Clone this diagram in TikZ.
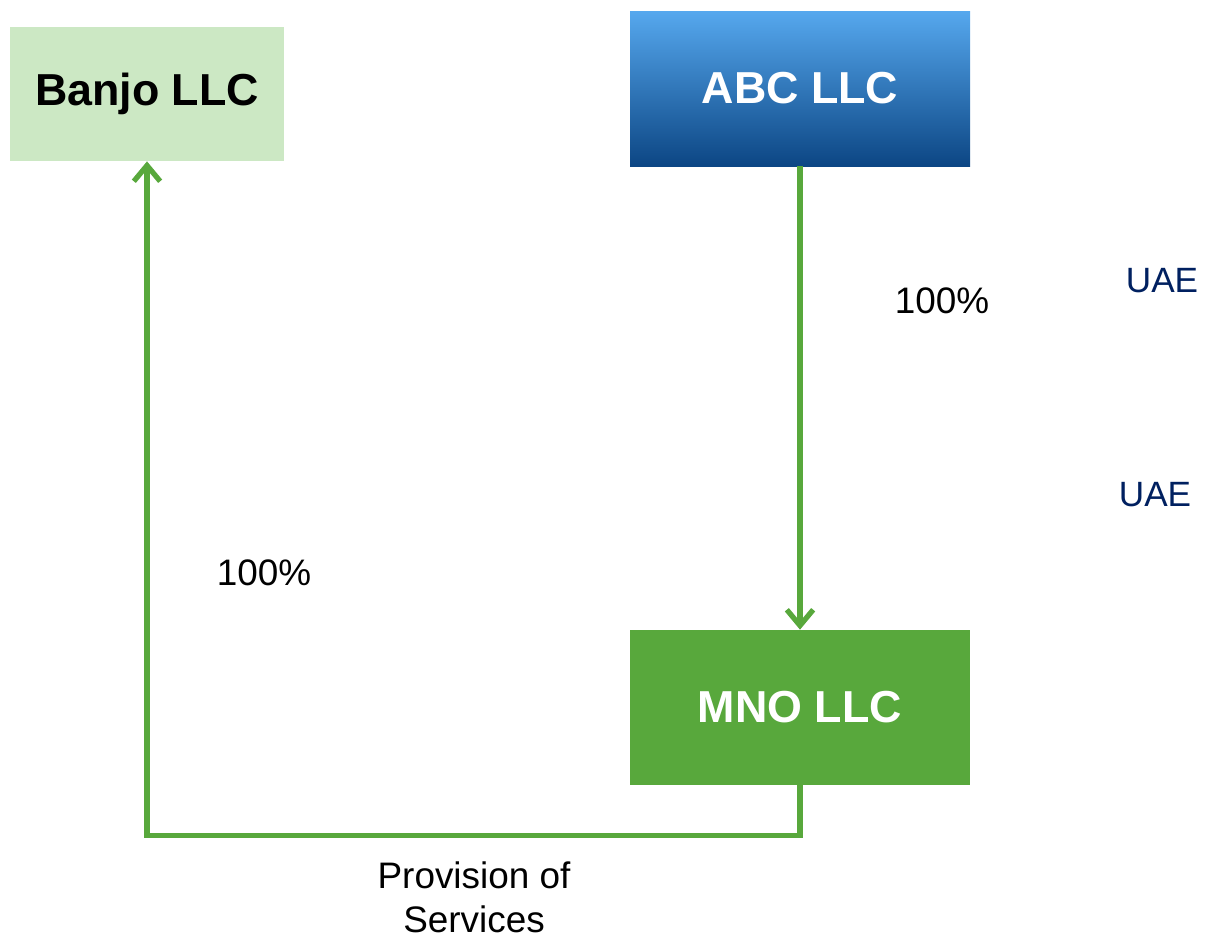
\documentclass[tikz,border=0pt]{standalone}
\usepackage{fontspec}
\setmainfont{Liberation Sans}
\usetikzlibrary{arrows.meta}
\definecolor{lightgreen}{RGB}{204,232,196}
\definecolor{darkgreen}{RGB}{88,168,60}
\definecolor{navy}{RGB}{0,32,96}
\begin{document}
\begin{tikzpicture}[x=0.02cm,y=-0.02cm,
  company/.style={minimum width=340*0.02cm,minimum height=155*0.02cm,inner sep=0pt,
    font=\fontsize{25.5}{30}\selectfont\bfseries},
  flow/.style={draw=darkgreen,line width=3pt,-{Straight Barb[length=9pt,width=15pt,line width=3pt]}},
  lbl/.style={font=\fontsize{21}{25}\selectfont}]
\useasboundingbox (0,0) rectangle (1206,938);
\node[company,fill=lightgreen,minimum width=274*0.02cm,minimum height=134*0.02cm] (banjo) at (147,94) {Banjo LLC};
\node[company,text=white,top color={rgb,255:red,86;green,168;blue,238},
  middle color={rgb,255:red,22;green,116;blue,210},bottom color={rgb,255:red,12;green,70;blue,132}] (abc) at (800,88.5) {ABC LLC};
\node[company,text=white,fill=darkgreen] (mno) at (800,707.5) {MNO LLC};
\draw[flow] (abc.south) -- (mno.north);
\draw[flow] (mno.south) -- ++(0,50) -| (banjo.south);
\node[lbl] (own1) at (942,301) {100\%};
\node[lbl] (own2) at (264,573) {100\%};
\node[lbl,text=navy,font=\fontsize{20}{24}\selectfont] (uae1) at (1162,281) {UAE};
\node[lbl,text=navy,font=\fontsize{20}{24}\selectfont] (uae2) at (1155,495) {UAE};
\node[lbl,align=center,inner sep=0pt] (service) at (474,897) {Provision of\\Services};
\end{tikzpicture}
\end{document}
